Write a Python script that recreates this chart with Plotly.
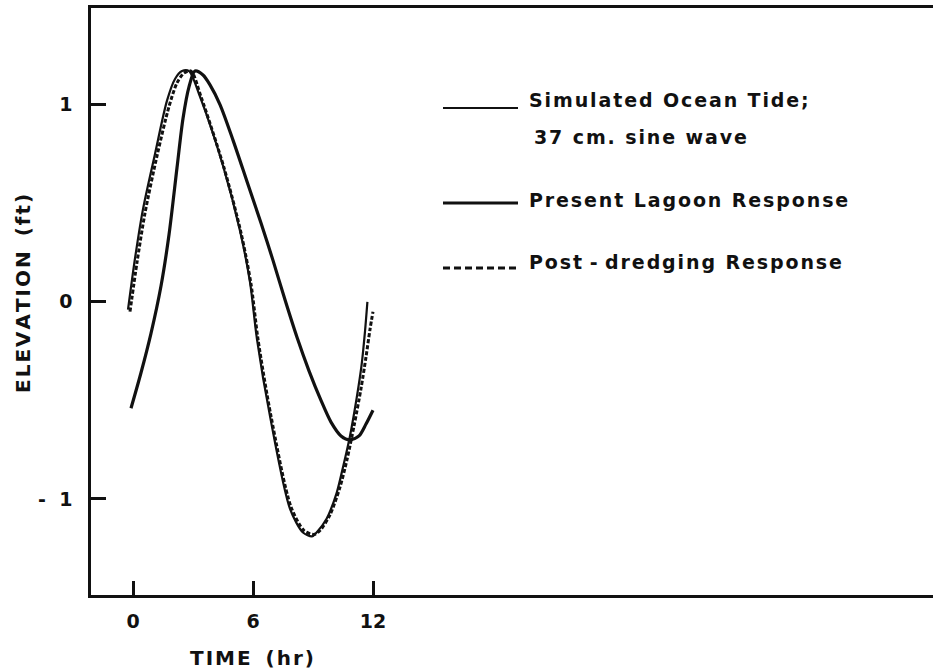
import plotly.graph_objects as go

# ---- data (hours, feet) ----
tide_t = [-0.25, 0.1, 0.5, 1.1, 1.7, 2.1, 2.45, 2.8, 3.35, 4.5, 5.35, 5.85, 6.2, 6.85,
          7.85, 8.5, 8.95, 9.18, 9.68, 10.18, 10.52, 10.85, 11.18, 11.43, 11.6, 11.72]
tide_v = [-0.04, 0.22, 0.47, 0.75, 1.02, 1.13, 1.17, 1.17, 1.04, 0.69, 0.36, 0.10, -0.19, -0.58,
          -1.05, -1.17, -1.19, -1.17, -1.10, -0.97, -0.83, -0.68, -0.49, -0.32, -0.15, 0.0]

present_t = [-0.1, 0.4, 0.9, 1.4, 1.8, 2.2, 2.5, 2.8, 3.1, 3.5, 3.85, 4.35, 5.0, 5.7, 6.4,
             7.0, 7.6, 8.2, 8.8, 9.4, 9.9, 10.4, 10.85, 11.3, 11.65, 12.0]
present_v = [-0.54, -0.36, -0.16, 0.08, 0.34, 0.68, 0.93, 1.09, 1.17, 1.15, 1.10, 1.00, 0.82,
             0.61, 0.40, 0.21, 0.01, -0.18, -0.35, -0.50, -0.61, -0.68, -0.70, -0.68, -0.62, -0.55]

post_t = [-0.15, 0.2, 0.6, 1.2, 1.8, 2.2, 2.55, 2.9, 3.4, 4.55, 5.4, 5.9, 6.25, 6.9, 7.9,
          8.55, 9.05, 9.35, 9.85, 10.35, 10.7, 11.05, 11.4, 11.65, 11.85, 12.0]
post_v = [-0.05, 0.20, 0.45, 0.74, 0.99, 1.11, 1.16, 1.17, 1.04, 0.68, 0.35, 0.09, -0.19, -0.58,
          -1.04, -1.16, -1.18, -1.16, -1.08, -0.94, -0.80, -0.63, -0.44, -0.28, -0.14, -0.05]

x_ticks = [0, 6, 12]
x_ticklabels = ["0", "6", "12"]
y_ticks = [-1, 0, 1]
y_ticklabels = ["-\u00a0\u00a01", "0", "1"]

legend_labels = ["Simulated Ocean Tide;", "37 cm. sine wave",
                 "Present Lagoon Response", "Post\u2009-\u2009dredging Response"]
x_title = "TIME (hr)"
y_title = "ELEVATION (ft)"

# ---- layout geometry ----
W, H = 933, 671
ML, MR, MT, MB = 91, 0, 8, 76
PW, PH = W - ML - MR, H - MT - MB
FONT = "DejaVu Sans"
INK = "#111111"


def spaced(s, sep="\u200a", word="\u00a0\u2009"):
    return sep.join(c if c != " " else word for c in s)


def px(x):
    return (x - ML) / PW


def py(y):
    return (H - MB - y) / PH


fig = go.Figure()
fig.add_trace(go.Scatter(x=tide_t, y=tide_v, mode="lines", line=dict(color=INK, width=2.2, shape="spline", smoothing=0.8),
                         name="Simulated Ocean Tide", showlegend=False))
fig.add_trace(go.Scatter(x=present_t, y=present_v, mode="lines", line=dict(color=INK, width=3.2, shape="spline", smoothing=0.8),
                         name="Present Lagoon Response", showlegend=False))
fig.add_trace(go.Scatter(x=post_t, y=post_v, mode="lines", line=dict(color=INK, width=3, dash="4px,2px", shape="spline", smoothing=0.8),
                         name="Post-dredging Response", showlegend=False))

tickfont = dict(family=FONT, size=19, color=INK, weight="bold")
fig.update_xaxes(range=[-2.1, 40], tickvals=x_ticks, ticktext=x_ticklabels, ticks="inside", ticklen=14,
                 tickwidth=2.5, tickcolor=INK, showline=True, linewidth=2.5, linecolor=INK, mirror=True,
                 showgrid=False, zeroline=False, tickfont=tickfont, ticklabelstandoff=7)
fig.update_yaxes(range=[-1.487, 1.49], tickvals=y_ticks, ticktext=y_ticklabels, ticks="inside", ticklen=15,
                 tickwidth=2.5, tickcolor=INK, showline=True, linewidth=2.5, linecolor=INK, mirror=False,
                 showgrid=False, zeroline=False, tickfont=tickfont, ticklabelstandoff=12)

annotations = []
annotations.append(dict(x=px(252), y=py(658), xref="paper", yref="paper", text=spaced(x_title),
                        showarrow=False, font=dict(family=FONT, size=20, color=INK, weight="bold"),
                        xanchor="center", yanchor="middle"))
annotations.append(dict(x=px(23), y=py(294), xref="paper", yref="paper", text=spaced(y_title),
                        showarrow=False, textangle=-90, font=dict(family=FONT, size=20, color=INK, weight="bold"),
                        xanchor="center", yanchor="middle"))

legend_x = [527, 532, 527, 527]
legend_y = [100, 137, 200, 262]
for lbl, lx, ly in zip(legend_labels, legend_x, legend_y):
    annotations.append(dict(x=px(lx), y=py(ly), xref="paper", yref="paper", text=spaced(lbl, word="\u00a0"),
                            showarrow=False, font=dict(family=FONT, size=19, color=INK, weight="bold"),
                            xanchor="left", yanchor="middle"))

shapes = [
    dict(type="line", xref="paper", yref="paper", x0=px(443), x1=px(518), y0=py(108), y1=py(108),
         line=dict(color=INK, width=2.2)),
    dict(type="line", xref="paper", yref="paper", x0=px(443), x1=px(518), y0=py(203), y1=py(203),
         line=dict(color=INK, width=3.2)),
    dict(type="line", xref="paper", yref="paper", x0=px(443), x1=px(518), y0=py(268), y1=py(268),
         line=dict(color=INK, width=3, dash="7px,4px")),
]

fig.update_layout(width=W, height=H, margin=dict(l=ML, r=MR, t=MT, b=MB),
                  paper_bgcolor="white", plot_bgcolor="white",
                  annotations=annotations, shapes=shapes, showlegend=False)

fig.write_html("out.html")
